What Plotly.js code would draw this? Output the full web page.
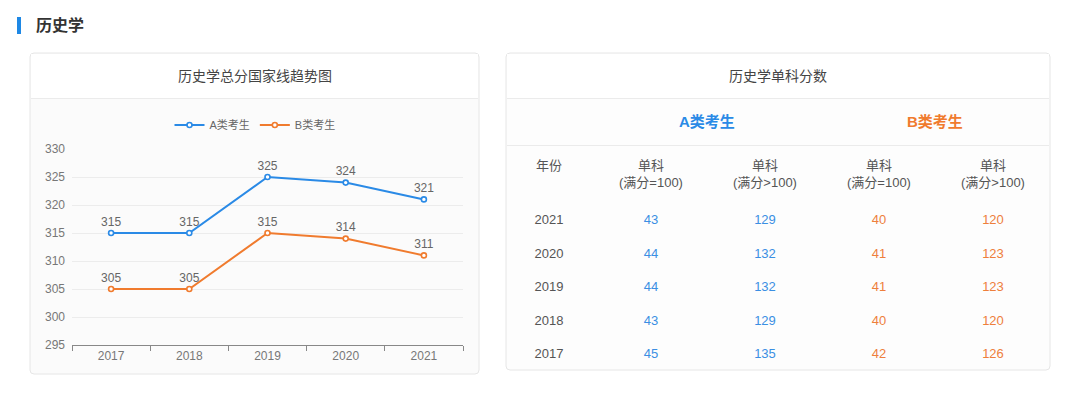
<!DOCTYPE html>
<html>
<head>
<meta charset="utf-8">
<script src="https://cdn.plot.ly/plotly-3.0.1.min.js"></script>
<style>
html,body{margin:0;padding:0;background:#fff;}
#chart{width:1080px;height:394px;}
</style>
</head>
<body>
<div id="chart"></div>
<script>
// ---------- data ----------
var years = ['2017', '2018', '2019', '2020', '2021'];
var totalA = [315, 315, 325, 324, 321];
var totalB = [305, 305, 315, 314, 311];

var tableYears = ['2021', '2020', '2019', '2018', '2017'];
var singleA100 = [43, 44, 44, 43, 45];
var singleAOver = [129, 132, 132, 129, 135];
var singleB100 = [40, 41, 41, 40, 42];
var singleBOver = [120, 123, 123, 120, 126];

var seriesNames = ['A类考生', 'B类考生'];
var colHeads = ['单科<br>(满分=100)', '单科<br>(满分>100)', '单科<br>(满分=100)', '单科<br>(满分>100)'];

// ---------- layout helpers ----------
var W = 1080, H = 394;
var BLUE = '#2a8ae6', ORANGE = '#f07b2e';
var TBLUE = '#3b8fe3', TORANGE = '#ee7f3c';
var FONT = 'Liberation Sans, Noto Sans CJK SC, sans-serif';
function px(x){ return x / W; }
function py(y){ return 1 - y / H; }

function roundRect(x0, y0, x1, y1, r){
  var p = 'M' + px(x0 + r) + ',' + py(y0) +
    ' L' + px(x1 - r) + ',' + py(y0) +
    ' Q' + px(x1) + ',' + py(y0) + ' ' + px(x1) + ',' + py(y0 + r) +
    ' L' + px(x1) + ',' + py(y1 - r) +
    ' Q' + px(x1) + ',' + py(y1) + ' ' + px(x1 - r) + ',' + py(y1) +
    ' L' + px(x0 + r) + ',' + py(y1) +
    ' Q' + px(x0) + ',' + py(y1) + ' ' + px(x0) + ',' + py(y1 - r) +
    ' L' + px(x0) + ',' + py(y0 + r) +
    ' Q' + px(x0) + ',' + py(y0) + ' ' + px(x0 + r) + ',' + py(y0) + ' Z';
  return p;
}
function rect(x0, y0, x1, y1, fill){
  return {type:'rect', xref:'paper', yref:'paper', x0:px(x0), x1:px(x1), y0:py(y1), y1:py(y0),
    fillcolor:fill, line:{width:0}, layer:'below'};
}
function hline(x0, x1, y, color){
  return {type:'line', xref:'paper', yref:'paper', x0:px(x0), x1:px(x1), y0:py(y), y1:py(y),
    line:{color:color, width:1}, layer:'below'};
}

var shapes = [
  // header bar
  rect(17, 17, 21, 34, '#1e88e5'),
  // left card
  {type:'path', xref:'paper', yref:'paper', path: roundRect(30, 53, 479, 374, 4), fillcolor:'#fbfbfb', line:{color:'#e6e6e6', width:1}, layer:'below'},
  rect(31, 54, 478, 98, '#ffffff'),
  hline(31, 478, 98.5, '#ebebeb'),
  // right card
  {type:'path', xref:'paper', yref:'paper', path: roundRect(506, 53, 1050, 370, 4), fillcolor:'#fdfdfd', line:{color:'#e6e6e6', width:1}, layer:'below'},
  rect(507, 54, 1049, 98, '#ffffff'),
  hline(507, 1049, 98.5, '#ebebeb'),
  hline(507, 1049, 145.5, '#ebebeb')
];

var annotations = [
  {xref:'paper', yref:'paper', x:px(34), y:py(25), xanchor:'left', yanchor:'middle', showarrow:false,
   text:'<b>历史学</b>', font:{family:FONT, size:16, color:'#333'}},
  {xref:'paper', yref:'paper', x:px(255), y:py(76), xanchor:'center', yanchor:'middle', showarrow:false,
   text:'历史学总分国家线趋势图', font:{family:FONT, size:14, color:'#444'}},
  {xref:'paper', yref:'paper', x:px(778), y:py(76), xanchor:'center', yanchor:'middle', showarrow:false,
   text:'历史学单科分数', font:{family:FONT, size:14, color:'#444'}},
  {xref:'paper', yref:'paper', x:px(707), y:py(122), xanchor:'center', yanchor:'middle', showarrow:false,
   text:'<b>' + seriesNames[0] + '</b>', font:{family:FONT, size:15, color:BLUE}},
  {xref:'paper', yref:'paper', x:px(935), y:py(122), xanchor:'center', yanchor:'middle', showarrow:false,
   text:'<b>' + seriesNames[1] + '</b>', font:{family:FONT, size:15, color:ORANGE}},
  {xref:'paper', yref:'paper', x:px(549), y:py(165), xanchor:'center', yanchor:'middle', showarrow:false,
   text:'年份', font:{family:FONT, size:13, color:'#555'}}
];
var headX = [651, 765, 879, 993];
colHeads.forEach(function(t, i){
  annotations.push({xref:'paper', yref:'paper', x:px(headX[i]), y:py(174), xanchor:'center', yanchor:'middle',
    showarrow:false, text:t, align:'center', font:{family:FONT, size:13, color:'#555'}});
});

// ---------- traces ----------
var marker = function(c){ return {symbol:'circle', size:5, color:'#fff', line:{color:c, width:1.6}}; };
var traces = [
  {type:'scatter', mode:'lines+markers+text', name:seriesNames[0], x:years, y:totalA,
   text:totalA.map(String), textposition:'top center', textfont:{family:FONT, size:12, color:'#666'},
   line:{color:BLUE, width:2}, marker:marker(BLUE), cliponaxis:false, hoverinfo:'x+y'},
  {type:'scatter', mode:'lines+markers+text', name:seriesNames[1], x:years, y:totalB,
   text:totalB.map(String), textposition:'top center', textfont:{family:FONT, size:12, color:'#666'},
   line:{color:ORANGE, width:2}, marker:marker(ORANGE), cliponaxis:false, hoverinfo:'x+y'}
];

// table cells via text traces on a second axis pair
var colX = [549, 651, 765, 879, 993];
var cols = [
  {vals: tableYears, color:'#555'},
  {vals: singleA100, color:TBLUE},
  {vals: singleAOver, color:TBLUE},
  {vals: singleB100, color:TORANGE},
  {vals: singleBOver, color:TORANGE}
];
cols.forEach(function(c, i){
  traces.push({type:'scatter', mode:'text', xaxis:'x2', yaxis:'y2', showlegend:false,
    x: tableYears.map(function(){ return colX[i]; }), y: tableYears,
    text: c.vals.map(String), textposition:'middle center',
    textfont:{family:FONT, size:13, color:c.color}, hoverinfo:'skip'});
});

var layout = {
  width:W, height:H,
  margin:{l:0, r:0, t:0, b:0},
  paper_bgcolor:'#ffffff', plot_bgcolor:'rgba(0,0,0,0)',
  font:{family:FONT, color:'#666'},
  showlegend:true,
  legend:{orientation:'h', x:px(255), xanchor:'center', y:py(125), yanchor:'middle',
    font:{family:FONT, size:11, color:'#666'}, bgcolor:'rgba(0,0,0,0)', itemwidth:30, tracegroupgap:0},
  xaxis:{domain:[px(72), px(463)], type:'category', range:[-0.5, 4.5], tickson:'boundaries',
    ticks:'outside', ticklen:5, tickcolor:'#888', showline:true, linecolor:'#888', linewidth:1,
    showgrid:false, zeroline:false, tickfont:{family:FONT, size:12, color:'#777'}, fixedrange:true},
  yaxis:{domain:[py(345), py(149)], range:[295, 330], dtick:5, tick0:295, showgrid:true,
    gridcolor:'#ececec', zeroline:false, showline:false, ticks:'', ticklabelstandoff:6,
    tickfont:{family:FONT, size:12, color:'#777'}, fixedrange:true},
  xaxis2:{domain:[px(506), px(1050)], range:[506, 1050], visible:false, fixedrange:true},
  yaxis2:{domain:[py(372), py(204)], type:'category', categoryorder:'array',
    categoryarray:['2017','2018','2019','2020','2021'], range:[-0.5, 4.5], visible:false, fixedrange:true},
  shapes:shapes,
  annotations:annotations
};

Plotly.newPlot('chart', traces, layout, {displayModeBar:false, staticPlot:true});
</script>
</body>
</html>
